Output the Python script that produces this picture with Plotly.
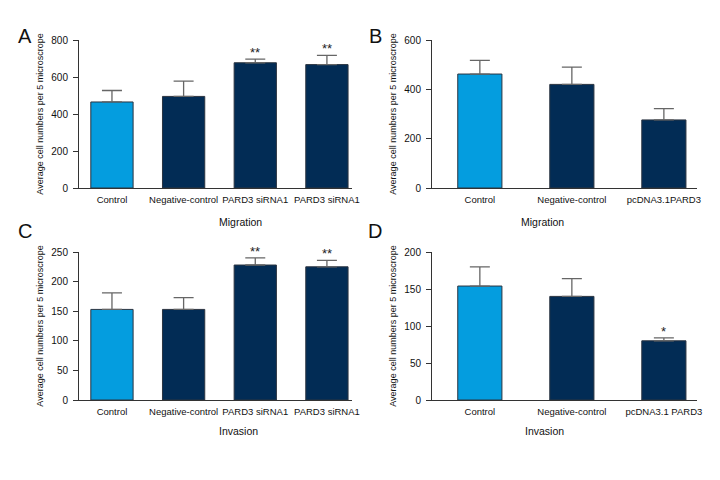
import plotly.graph_objects as go

# panel A / C categories (siRNA knock-down), panel B / D (over-expression)
si_labels = ['Control', 'Negative-control', 'PARD3 siRNA1', 'PARD3 siRNA1']
oe_labels_b = ['Control', 'Negative-control', 'pcDNA3.1PARD3']
oe_labels_d = ['Control', 'Negative-control', 'pcDNA3.1 PARD3']

migration_si = [465, 495, 677, 667]
migration_si_err = [62, 83, 20, 50]
migration_si_sig = ['', '', '**', '**']

migration_oe = [462, 420, 276]
migration_oe_err = [55, 70, 46]
migration_oe_sig = ['', '', '']

invasion_si = [153, 153, 228, 225]
invasion_si_err = [28, 20, 12, 11]
invasion_si_sig = ['', '', '**', '**']

invasion_oe = [154, 140, 80]
invasion_oe_err = [26, 24, 4]
invasion_oe_sig = ['', '', '*']

FONT = 'Liberation Sans, Arial, sans-serif'
LIGHT = '#049ddf'
DARK = '#022c55'
AXIS = '#333333'
TXT = '#111111'
YTITLE = 'Average cell numbers per 5 microscrope'

# the page body keeps an 8px margin, so the figure is 8px smaller each way
W, H = 712, 472


def px(x, y):
    """Page pixel -> paper coordinates."""
    return (x - 8) / W, 1 - (y - 8) / H


panels = [
    # letter, labels, values, errors, stars, y max, dtick, x title,
    # plot box (left, top, right, bottom) in page px, x range, bar width
    ('A', si_labels, migration_si, migration_si_err, migration_si_sig, 800, 200,
     'Migration', (79, 40, 352, 188), [-0.46, 3.35], 0.59),
    ('B', oe_labels_b, migration_oe, migration_oe_err, migration_oe_sig, 600, 200,
     'Migration', (432, 40, 697, 188), [-0.52, 2.36], 0.48),
    ('C', si_labels, invasion_si, invasion_si_err, invasion_si_sig, 250, 50,
     'Invasion', (79, 252, 352, 400), [-0.46, 3.35], 0.59),
    ('D', oe_labels_d, invasion_oe, invasion_oe_err, invasion_oe_sig, 200, 50,
     'Invasion', (432, 252, 697, 400), [-0.52, 2.36], 0.48),
]
# letter centre and x-title centre y (page px)
letter_pos = [(16, 23), (375, 23), (16, 231), (375, 231)]
xtitle_y = [222, 222, 439, 439]

fig = go.Figure()
annotations = []
layout = {}

for i, (letter, labels, vals, errs, sig, ymax, dtick, xtitle,
        box, xrange_, width) in enumerate(panels):
    n = i + 1
    suffix = '' if n == 1 else str(n)
    xs = list(range(len(vals)))
    left, top = px(box[0], box[1])
    right, bottom = px(box[2], box[3])

    fig.add_trace(go.Bar(
        x=xs, y=vals, width=width,
        marker={'color': [LIGHT] + [DARK] * (len(vals) - 1),
                'line': {'color': '#2b3440', 'width': 1}},
        error_y={'type': 'data', 'symmetric': False, 'array': errs,
                 'arrayminus': [0] * len(errs), 'color': '#666666',
                 'thickness': 1.3, 'width': 10},
        xaxis='x' + suffix, yaxis='y' + suffix, showlegend=False))

    layout['xaxis' + suffix] = {
        'domain': [left, right], 'anchor': 'y' + suffix, 'range': xrange_,
        'tickvals': xs, 'ticktext': labels, 'ticks': '', 'tickangle': 0,
        'ticklabelstandoff': 3,
        'showline': True, 'linecolor': AXIS, 'linewidth': 1,
        'showgrid': False, 'zeroline': False,
        'tickfont': {'size': 9.5, 'color': TXT}, 'automargin': False}
    layout['yaxis' + suffix] = {
        'domain': [bottom, top], 'anchor': 'x' + suffix, 'range': [0, ymax],
        'dtick': dtick, 'ticks': 'outside', 'ticklen': 5, 'ticklabelstandoff': 3,
        'tickcolor': AXIS, 'showline': True, 'linecolor': AXIS, 'linewidth': 1,
        'showgrid': False, 'zeroline': False,
        'tickfont': {'size': 10, 'color': TXT},
        'title': {'text': YTITLE, 'font': {'size': 9, 'color': TXT},
                  'standoff': 6},
        'automargin': False}

    for x, v, e, s in zip(xs, vals, errs, sig):
        if s:
            annotations.append({
                'x': x, 'y': v + e, 'xref': 'x' + suffix, 'yref': 'y' + suffix,
                'text': s, 'showarrow': False, 'yanchor': 'bottom', 'yshift': -3,
                'font': {'size': 13, 'color': '#222'}})

    lx, ly = px(*letter_pos[i])
    annotations.append({'x': lx, 'y': ly, 'xref': 'paper', 'yref': 'paper',
                        'text': letter, 'showarrow': False,
                        'font': {'size': 20, 'color': TXT}})
    cx, cy = px((box[0] + box[2]) / 2 + 1, xtitle_y[i])
    annotations.append({'x': cx, 'y': cy, 'xref': 'paper', 'yref': 'paper',
                        'text': xtitle, 'showarrow': False,
                        'font': {'size': 10.5, 'color': TXT}})

fig.update_layout(
    width=W, height=H,
    margin={'l': 0, 'r': 0, 't': 0, 'b': 0},
    paper_bgcolor='white', plot_bgcolor='white',
    font={'family': FONT},
    annotations=annotations,
    **layout)

fig.write_html('out.html')
